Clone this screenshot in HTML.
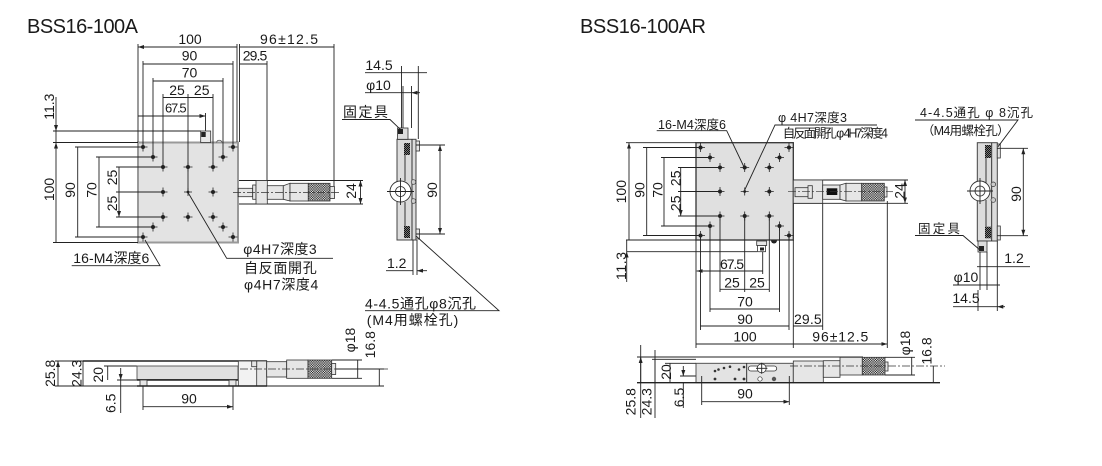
<!DOCTYPE html>
<html><head><meta charset="utf-8">
<style>
html,body{margin:0;padding:0;background:#fff;}
svg{display:block;}
text{font-family:"Liberation Sans","Noto Sans CJK JP",sans-serif;fill:#1a1a1a;font-size:14px;}
.l{stroke:#222;stroke-width:0.9;fill:none;}
.d{marker-start:url(#a);marker-end:url(#a);}
.e{marker-end:url(#a);}
.c{stroke:#333;stroke-width:0.7;fill:none;stroke-dasharray:8 2 2 2;}
.g{fill:#e6e6e6;stroke:#333;stroke-width:0.8;}
.s{font-size:12.5px;}
</style></head><body>
<svg width="1102" height="466" viewBox="0 0 1102 466" xmlns="http://www.w3.org/2000/svg">
<defs>
<marker id="a" viewBox="0 0 6 4" refX="6" refY="2" markerWidth="6" markerHeight="4" markerUnits="userSpaceOnUse" orient="auto-start-reverse"><path d="M0,0L6,2L0,4z" fill="#222"/></marker>
<pattern id="k" width="2.4" height="2.4" patternUnits="userSpaceOnUse"><rect width="2.4" height="2.4" fill="#e8e8e8"/><rect width="1.2" height="1.2" fill="#222"/><rect x="1.2" y="1.2" width="1.2" height="1.2" fill="#222"/></pattern>
<pattern id="k2" width="2" height="2" patternUnits="userSpaceOnUse"><rect width="2" height="2" fill="#777"/><rect width="1" height="1" fill="#111"/><rect x="1" y="1" width="1" height="1" fill="#111"/></pattern>
<g id="h"><circle r="2" fill="#222"/><path d="M-4.5 0H4.5M0 -4.5V4.5" stroke="#222" stroke-width="0.8"/></g>
<g id="hc"><circle r="1.4" fill="#222"/><path d="M-4 0H4M0 -4V4" stroke="#222" stroke-width="0.8"/></g>
</defs>

<!-- Titles -->
<text x="27" y="33" textLength="111" style="font-size:20px">BSS16-100A</text>
<text x="580" y="33" textLength="126" style="font-size:20px">BSS16-100AR</text>

<!-- ================= LEFT TOP VIEW ================= -->
<rect x="138" y="142.5" width="100" height="100" fill="#e3e3e3" stroke="#999" stroke-width="2"/>
<path class="l" d="M138 44V142M143 61V147M153 78V157M163 94V167M188 94V192M213 94V167M223 78V157M233 61V147M237 44V142M239.5 44V142M205.5 113V131M267 61V180.5M334 44V186"/>
<path class="l d" d="M138 47H237M239.5 47H334M143 64H233M239.5 64H267M153 81H223M163 97.5H188M188 97.5H213M138 116H205.5"/>
<path class="l" d="M53 131H201M53 142.5H138M53 242.5H138M75 147H143M75 237H143M96 157H153M96 227H153M116 167H163M116 192H163M116 217H163M56 131V142.5"/>
<path class="l e" d="M56 97V131"/>
<path class="l d" d="M56 142.5V242.5M77.7 147V237M99 157V227M119 167V192M119 192V217"/>
<use href="#h" x="143" y="147"/><use href="#h" x="233" y="147"/><use href="#h" x="143" y="237"/><use href="#h" x="233" y="237"/>
<use href="#h" x="153" y="157"/><use href="#h" x="223" y="157"/><use href="#h" x="153" y="227"/><use href="#h" x="223" y="227"/>
<use href="#h" x="163" y="167"/><use href="#h" x="188" y="167"/><use href="#h" x="213" y="167"/>
<use href="#h" x="163" y="192"/><use href="#hc" x="188" y="192"/><use href="#h" x="213" y="192"/>
<use href="#h" x="163" y="217"/><use href="#h" x="188" y="217"/><use href="#h" x="213" y="217"/>
<rect x="200.7" y="131" width="10" height="11.5" fill="#e8e8e8" stroke="#333" stroke-width="0.8"/>
<rect x="201.2" y="132" width="4.5" height="5" fill="#222"/>
<path d="M216.5 142.5A2.8 2.8 0 0 1 222 142.5" fill="none" stroke="#555" stroke-width="0.8"/>
<path class="l" d="M239 180.5H363M239 204H363"/>
<rect x="238.3" y="188.3" width="14.4" height="8.4" class="g"/>
<rect x="252.7" y="185" width="3.3" height="14.3" class="g"/>
<rect x="256" y="180.5" width="11.3" height="23.5" class="g"/>
<rect x="267.3" y="185.7" width="16" height="13.6" class="g"/>
<path d="M283.3 185.7L290 183.3V201L283.3 199.3z" class="g"/>
<rect x="290" y="183.3" width="18.3" height="17.7" class="g"/>
<rect x="308.3" y="183.3" width="21.7" height="17.7" fill="url(#k)" stroke="#333" stroke-width="0.8"/>
<rect x="330" y="186.5" width="4.5" height="12" class="g"/>
<path class="c" d="M233 192.5H340"/>
<path class="l d" d="M360.5 180.5V204"/>
<text x="190" y="44" text-anchor="middle">100</text>
<text x="289" y="44" text-anchor="middle" textLength="58">96±12.5</text>
<text x="189.5" y="60.7" text-anchor="middle">90</text>
<text x="255" y="60.7" text-anchor="middle" textLength="24.6">29.5</text>
<text x="189.5" y="77.3" text-anchor="middle">70</text>
<text x="177" y="95" text-anchor="middle">25</text>
<text x="201.7" y="95" text-anchor="middle">25</text>
<text x="175.8" y="112.7" text-anchor="middle" textLength="21.7" style="font-size:13px">67.5</text>
<text transform="translate(49,106.7) rotate(-90)" text-anchor="middle" dy="0.35em">11.3</text>
<text transform="translate(49,189.5) rotate(-90)" text-anchor="middle" dy="0.35em">100</text>
<text transform="translate(70,190) rotate(-90)" text-anchor="middle" dy="0.35em">90</text>
<text transform="translate(91.5,190) rotate(-90)" text-anchor="middle" dy="0.35em">70</text>
<text transform="translate(112,177.5) rotate(-90)" text-anchor="middle" dy="0.35em">25</text>
<text transform="translate(112,203.5) rotate(-90)" text-anchor="middle" dy="0.35em">25</text>
<text transform="translate(351,191) rotate(-90)" text-anchor="middle" dy="0.35em">24</text>
<path class="l" d="M145 240L160 265.7H71.7"/>
<text x="73.3" y="263" textLength="76">16-M4深度6</text>
<path class="l" d="M188 192.5L226.7 258.3H333"/>
<text x="243.3" y="254" textLength="73.4">φ4H7深度3</text>
<text x="244" y="273" textLength="72.7">自反面開孔</text>
<text x="244" y="289.5" textLength="74.3">φ4H7深度4</text>

<!-- ================= LEFT SIDE VIEW ================= -->
<rect x="397" y="139.3" width="19" height="100.7" fill="#dcdcdc" stroke="#444" stroke-width="1"/>
<path class="l" d="M412 139.3V240M405 155V181M405 202V226"/>
<rect x="416" y="141" width="3.5" height="10" class="g"/>
<rect x="416" y="229" width="3.5" height="10" class="g"/>
<rect x="404" y="143" width="6" height="12" fill="url(#k2)"/>
<rect x="404" y="226" width="6" height="12" fill="url(#k2)"/>
<circle cx="400.5" cy="191.5" r="10.5" fill="#fff" stroke="#333" stroke-width="0.9"/>
<circle cx="400.5" cy="191.5" r="5" fill="none" stroke="#333" stroke-width="0.8"/>
<path class="l" d="M387 191.5H414M400.5 178V205"/>
<circle cx="413.5" cy="182" r="2.3" fill="#ccc" stroke="#333" stroke-width="0.7"/>
<circle cx="413.5" cy="201" r="2.3" fill="#ccc" stroke="#333" stroke-width="0.7"/>
<rect x="397.5" y="128" width="10.5" height="11.3" fill="#ddd" stroke="#333" stroke-width="0.8"/>
<rect x="398" y="129" width="5" height="5" fill="#222"/>
<path class="l" d="M401.5 66V128M418.3 66V139M403 86V128M411.5 86V128M401.5 72.7H418.3M403 92.7H411.5"/>
<path class="l e" d="M365 72.7H401.5M427 72.7H418.3M365 92.7H403M420 92.7H411.5"/>
<text x="379" y="70" text-anchor="middle">14.5</text>
<text x="378.5" y="90" text-anchor="middle">φ10</text>
<text x="365.5" y="117" text-anchor="middle" textLength="45">固定具</text>
<path class="l" d="M342 119.5H390L401 130"/>
<path class="l" d="M416 145H445M416 234H445M413 240V275M417 240V275"/>
<path class="l d" d="M440 145V234"/>
<text transform="translate(432,190) rotate(-90)" text-anchor="middle" dy="0.35em">90</text>
<path class="l e" d="M386 270.7H413M427 270.7H417"/>
<text x="396.7" y="268" text-anchor="middle">1.2</text>
<path class="l" d="M416 236L499 310.7H365"/>
<text x="365" y="308.5" textLength="111">4-4.5通孔φ8沉孔</text>
<text x="366.7" y="325" textLength="91.6">(M4用螺栓孔)</text>

<!-- ================= LEFT FRONT VIEW ================= -->
<path class="l" d="M55 361H83M55 386H137M104 366H137M117 380H137M143 386V410M233 386V410"/>
<path d="M83 361H267" stroke="#222" stroke-width="1.5"/>
<rect x="137" y="366" width="101" height="13.5" fill="#e0e0e0" stroke="#555" stroke-width="0.9"/>
<path d="M137 380H238" stroke="#222" stroke-width="1.5"/>
<rect x="140" y="380" width="7" height="6" class="g"/>
<rect x="229" y="380" width="7" height="6" class="g"/>
<rect x="238.3" y="361" width="28.4" height="25" fill="#f2f2f2" stroke="#333" stroke-width="0.8"/>
<rect x="256.7" y="361" width="10" height="25" class="g"/>
<rect x="251.7" y="361" width="5" height="5.7" class="g"/>
<path d="M137 386H267" stroke="#222" stroke-width="1.5"/>
<rect x="266.7" y="361.7" width="20" height="15.3" class="g"/>
<rect x="286.7" y="360" width="21.3" height="18.3" class="g"/>
<rect x="308" y="360" width="23.7" height="18.3" fill="url(#k)" stroke="#333" stroke-width="0.8"/>
<rect x="331.7" y="363.5" width="4" height="11" class="g"/>
<path class="c" d="M240 369H390"/>
<path class="l" d="M332 360H362M332 378.3H362M336 369H384M267 386H384"/>
<path class="l d" d="M58 361V386M83 361V386M107.7 366V380M357.7 360V378.3M379.3 369V386M143 406.7H233"/>
<path class="l" d="M120.7 380V413"/>
<path class="l e" d="M120.7 368V380"/>
<text transform="translate(50,373.3) rotate(-90)" text-anchor="middle" dy="0.35em">25.8</text>
<text transform="translate(76.7,373.3) rotate(-90)" text-anchor="middle" dy="0.35em">24.3</text>
<text transform="translate(98.3,374.7) rotate(-90)" text-anchor="middle" dy="0.35em">20</text>
<text transform="translate(110.5,403.3) rotate(-90)" text-anchor="middle" dy="0.35em">6.5</text>
<text transform="translate(350,340) rotate(-90)" text-anchor="middle" dy="0.35em">φ18</text>
<text transform="translate(370,344.7) rotate(-90)" text-anchor="middle" dy="0.35em">16.8</text>
<text x="189" y="403.5" text-anchor="middle">90</text>

<!-- ================= RIGHT TOP VIEW ================= -->
<rect x="696" y="142.7" width="97.3" height="97.3" fill="#e0e0e0" stroke="#333" stroke-width="1.3"/>
<path class="l" d="M626 142.7H696M626 240H696M643 147.5H700.5M643 235.5H700.5M661 157.5H710M661 226H710M678 167.5H720M678 191.5H720M678 216H720M626.7 251.7H757M626.7 240V251.7"/>
<path class="l d" d="M629 142.7V240M646.7 147.5V235.5M664 157.5V226M680.7 167.5V191.5M680.7 191.5V216"/>
<path class="l e" d="M626.7 282V251.7"/>
<path class="l" d="M696 240V348M700.5 236V330M710 226V312M720 216V292M744.7 216V292M762.7 252V274M769.3 216V292M779.5 226V312M789 236V330M793.3 240V348M822.7 203V330M887.3 201V348"/>
<path class="l d" d="M696.7 271H762.7M720 289.3H744.7M744.7 289.3H769.3M710 309H779.5M700.5 326H789M793.3 326H822.7M696 344H793.3M793.3 344H887.3"/>
<use href="#h" x="700.5" y="147.5"/><use href="#h" x="789" y="147.5"/><use href="#h" x="700.5" y="235.5"/><use href="#h" x="789" y="235.5"/>
<use href="#h" x="710" y="157.5"/><use href="#h" x="779.5" y="157.5"/><use href="#h" x="710" y="226"/><use href="#h" x="779.5" y="226"/>
<use href="#h" x="720" y="167.5"/><use href="#h" x="744.7" y="167.5"/><use href="#h" x="769.3" y="167.5"/>
<use href="#h" x="720" y="191.5"/><use href="#hc" x="744.7" y="191.5"/><use href="#h" x="769.3" y="191.5"/>
<use href="#h" x="720" y="216"/><use href="#h" x="744.7" y="216"/><use href="#h" x="769.3" y="216"/>
<rect x="756.7" y="241" width="10" height="4.5" class="g"/>
<rect x="757.5" y="245.5" width="8" height="6.2" fill="#fff" stroke="#333" stroke-width="0.8"/>
<rect x="760" y="247.5" width="4" height="3" fill="#222"/>
<path d="M771 240.5A3 3 0 0 0 777 240.5z" fill="#222"/>
<path class="l" d="M793.3 180H908M793.3 203.3H908"/>
<rect x="793.3" y="180" width="29.4" height="23.3" class="g"/>
<rect x="795" y="187.7" width="13.3" height="9" class="g"/>
<rect x="808" y="185.7" width="4.3" height="12.6" class="g"/>
<rect x="822.7" y="185" width="17.3" height="14.3" class="g"/>
<rect x="826.7" y="188.3" width="10.6" height="6.7" fill="#111"/>
<path d="M840 185L846 183.3V201L840 199.3z" class="g"/>
<rect x="846" y="183.3" width="15.7" height="17.7" class="g"/>
<rect x="861.7" y="183.3" width="22.6" height="17.7" fill="url(#k)" stroke="#333" stroke-width="0.8"/>
<rect x="884.3" y="187" width="2.7" height="10" class="g"/>
<path class="c" d="M788 191.7H893"/>
<path class="l d" d="M905 180V203.3"/>
<text transform="translate(899.5,191) rotate(-90)" text-anchor="middle" dy="0.35em">24</text>
<text transform="translate(621,191.7) rotate(-90)" text-anchor="middle" dy="0.35em">100</text>
<text transform="translate(639.5,190) rotate(-90)" text-anchor="middle" dy="0.35em">90</text>
<text transform="translate(657.5,190) rotate(-90)" text-anchor="middle" dy="0.35em">70</text>
<text transform="translate(675.5,178.3) rotate(-90)" text-anchor="middle" dy="0.35em">25</text>
<text transform="translate(675.5,203.3) rotate(-90)" text-anchor="middle" dy="0.35em">25</text>
<text transform="translate(621.3,266) rotate(-90)" text-anchor="middle" dy="0.35em" textLength="28">11.3</text>
<text x="732" y="269" text-anchor="middle" textLength="24">67.5</text>
<text x="732" y="287.3" text-anchor="middle">25</text>
<text x="757" y="287.3" text-anchor="middle">25</text>
<text x="745" y="306.7" text-anchor="middle">70</text>
<text x="745" y="324" text-anchor="middle">90</text>
<text x="794" y="324" textLength="27.7">29.5</text>
<text x="745" y="341.7" text-anchor="middle">100</text>
<text x="812.3" y="341.7" textLength="56">96±12.5</text>
<path class="l" d="M744 167L726.7 130.7H656.7"/>
<text class="s" x="658" y="129" textLength="68">16-M4深度6</text>
<path class="l" d="M744.7 190L775 125H877"/>
<text class="s" x="778" y="122" textLength="69">φ 4H7深度3</text>
<text class="s" x="782.7" y="137.5" textLength="105.3">自反面開孔 φ 4H7深度4</text>

<!-- ================= RIGHT SIDE VIEW ================= -->
<rect x="977.3" y="142.7" width="20" height="98.3" fill="#dcdcdc" stroke="#444" stroke-width="1"/>
<path class="l" d="M991.7 142.7V241M986 158V183M986 200V226.7"/>
<rect x="997.3" y="144" width="3" height="14" class="g"/>
<rect x="997.3" y="226" width="3" height="14" class="g"/>
<rect x="985" y="145" width="6" height="13" fill="url(#k2)"/>
<rect x="985" y="226.7" width="6" height="11.6" fill="url(#k2)"/>
<circle cx="980" cy="191" r="10" fill="#fff" stroke="#333" stroke-width="0.9"/>
<circle cx="980" cy="191" r="5" fill="none" stroke="#333" stroke-width="0.8"/>
<path class="l" d="M967 191H993M980 178V204"/>
<circle cx="993.3" cy="184.3" r="2.3" fill="#ccc" stroke="#333" stroke-width="0.7"/>
<circle cx="993.3" cy="200" r="2.3" fill="#ccc" stroke="#333" stroke-width="0.7"/>
<rect x="978" y="241" width="9" height="11" fill="#ddd" stroke="#333" stroke-width="0.8"/>
<rect x="979" y="246" width="5" height="5" fill="#222"/>
<path class="l" d="M997 148.3H1028M997 235.7H1028"/>
<path class="l d" d="M1023.3 148.3V235.7"/>
<text transform="translate(1016,194) rotate(-90)" text-anchor="middle" dy="0.35em">90</text>
<path class="l" d="M915 120H1018L998 146.7"/>
<text class="s" x="920" y="117" textLength="113">4-4.5通孔 φ 8沉孔</text>
<text class="s" x="921.7" y="135" textLength="88">（M4用螺栓孔）</text>
<path class="l" d="M915 235.5H963L980 250"/>
<text class="s" x="918" y="233" textLength="42">固定具</text>
<path class="l" d="M987 252V290M997.3 241V311M980 252V290M978 290V311M980 285H987M978 306.7H997.3M987 266.7H997.3"/>
<path class="l e" d="M977 266.7H987M1030 266.7H997.3M953 285H980M1000 285H987M953 306.7H978M1005 306.7H997.3"/>
<text x="1014" y="263" text-anchor="middle">1.2</text>
<text x="966" y="282" text-anchor="middle">φ10</text>
<text x="966" y="303" text-anchor="middle">14.5</text>

<!-- ================= RIGHT FRONT VIEW ================= -->
<path class="l" d="M637 357H863M652 359.3H696M665 363.3H696M680 376H696M701.7 383V405M789.3 383V405"/>
<rect x="696" y="363.3" width="97.3" height="19.4" fill="#e3e3e3" stroke="#444" stroke-width="0.9"/>
<path class="l" d="M746.7 363.3V382.7M701.7 376V382.7M789.3 376V382.7"/>
<circle cx="715" cy="371" r="1.3" fill="#333"/><circle cx="718.5" cy="369.5" r="1.3" fill="#333"/>
<circle cx="724" cy="368" r="1.3" fill="#333"/><circle cx="730" cy="366.7" r="1.3" fill="#333"/>
<circle cx="739" cy="369.5" r="1.3" fill="#333"/><circle cx="744" cy="367" r="1.3" fill="#333"/>
<rect x="748.3" y="366" width="28.4" height="5" rx="2.5" fill="#fff" stroke="#333" stroke-width="0.8"/>
<circle cx="761.7" cy="368.3" r="4.5" fill="#fff" stroke="#333" stroke-width="0.8"/>
<path class="l" d="M756 368.3H767.4M761.7 362.8V373.8"/>
<circle cx="715" cy="379" r="1.4" fill="#333"/><circle cx="735" cy="379" r="1.4" fill="#333"/><circle cx="744" cy="379" r="1.4" fill="#333"/>
<circle cx="760" cy="379" r="2.2" fill="#fff" stroke="#333" stroke-width="0.7"/>
<circle cx="774" cy="379" r="2.2" fill="#555"/>
<rect x="793.3" y="361" width="30" height="21.7" class="g"/>
<rect x="823.3" y="360.7" width="16.7" height="16.6" class="g"/>
<rect x="840" y="357.3" width="22.3" height="17.7" class="g"/>
<rect x="862.3" y="357.3" width="22.7" height="17.7" fill="url(#k)" stroke="#333" stroke-width="0.8"/>
<rect x="885" y="362" width="3" height="9" class="g"/>
<path class="c" d="M790 366H945"/>
<path d="M637 382.7H940" stroke="#222" stroke-width="1.3"/>
<path class="l" d="M885 357.3H915M885 375H915M640.7 345V418M655 350V418M683.3 383V408"/>
<path class="l d" d="M640.7 357V382.7M655 359.3V382.7M670 363.3V382.7M911.7 357.3V375M933.3 366V382.7M701.7 401.7H789.3"/>
<path class="l e" d="M683.3 366V376"/>
<text transform="translate(630.8,401.7) rotate(-90)" text-anchor="middle" dy="0.35em">25.8</text>
<text transform="translate(646.7,401.7) rotate(-90)" text-anchor="middle" dy="0.35em">24.3</text>
<text transform="translate(666,372) rotate(-90)" text-anchor="middle" dy="0.35em">20</text>
<text transform="translate(679,397.5) rotate(-90)" text-anchor="middle" dy="0.35em">6.5</text>
<text transform="translate(905,343) rotate(-90)" text-anchor="middle" dy="0.35em">φ18</text>
<text transform="translate(926.7,351) rotate(-90)" text-anchor="middle" dy="0.35em">16.8</text>
<text x="745" y="398.5" text-anchor="middle">90</text>
</svg>
</body></html>
